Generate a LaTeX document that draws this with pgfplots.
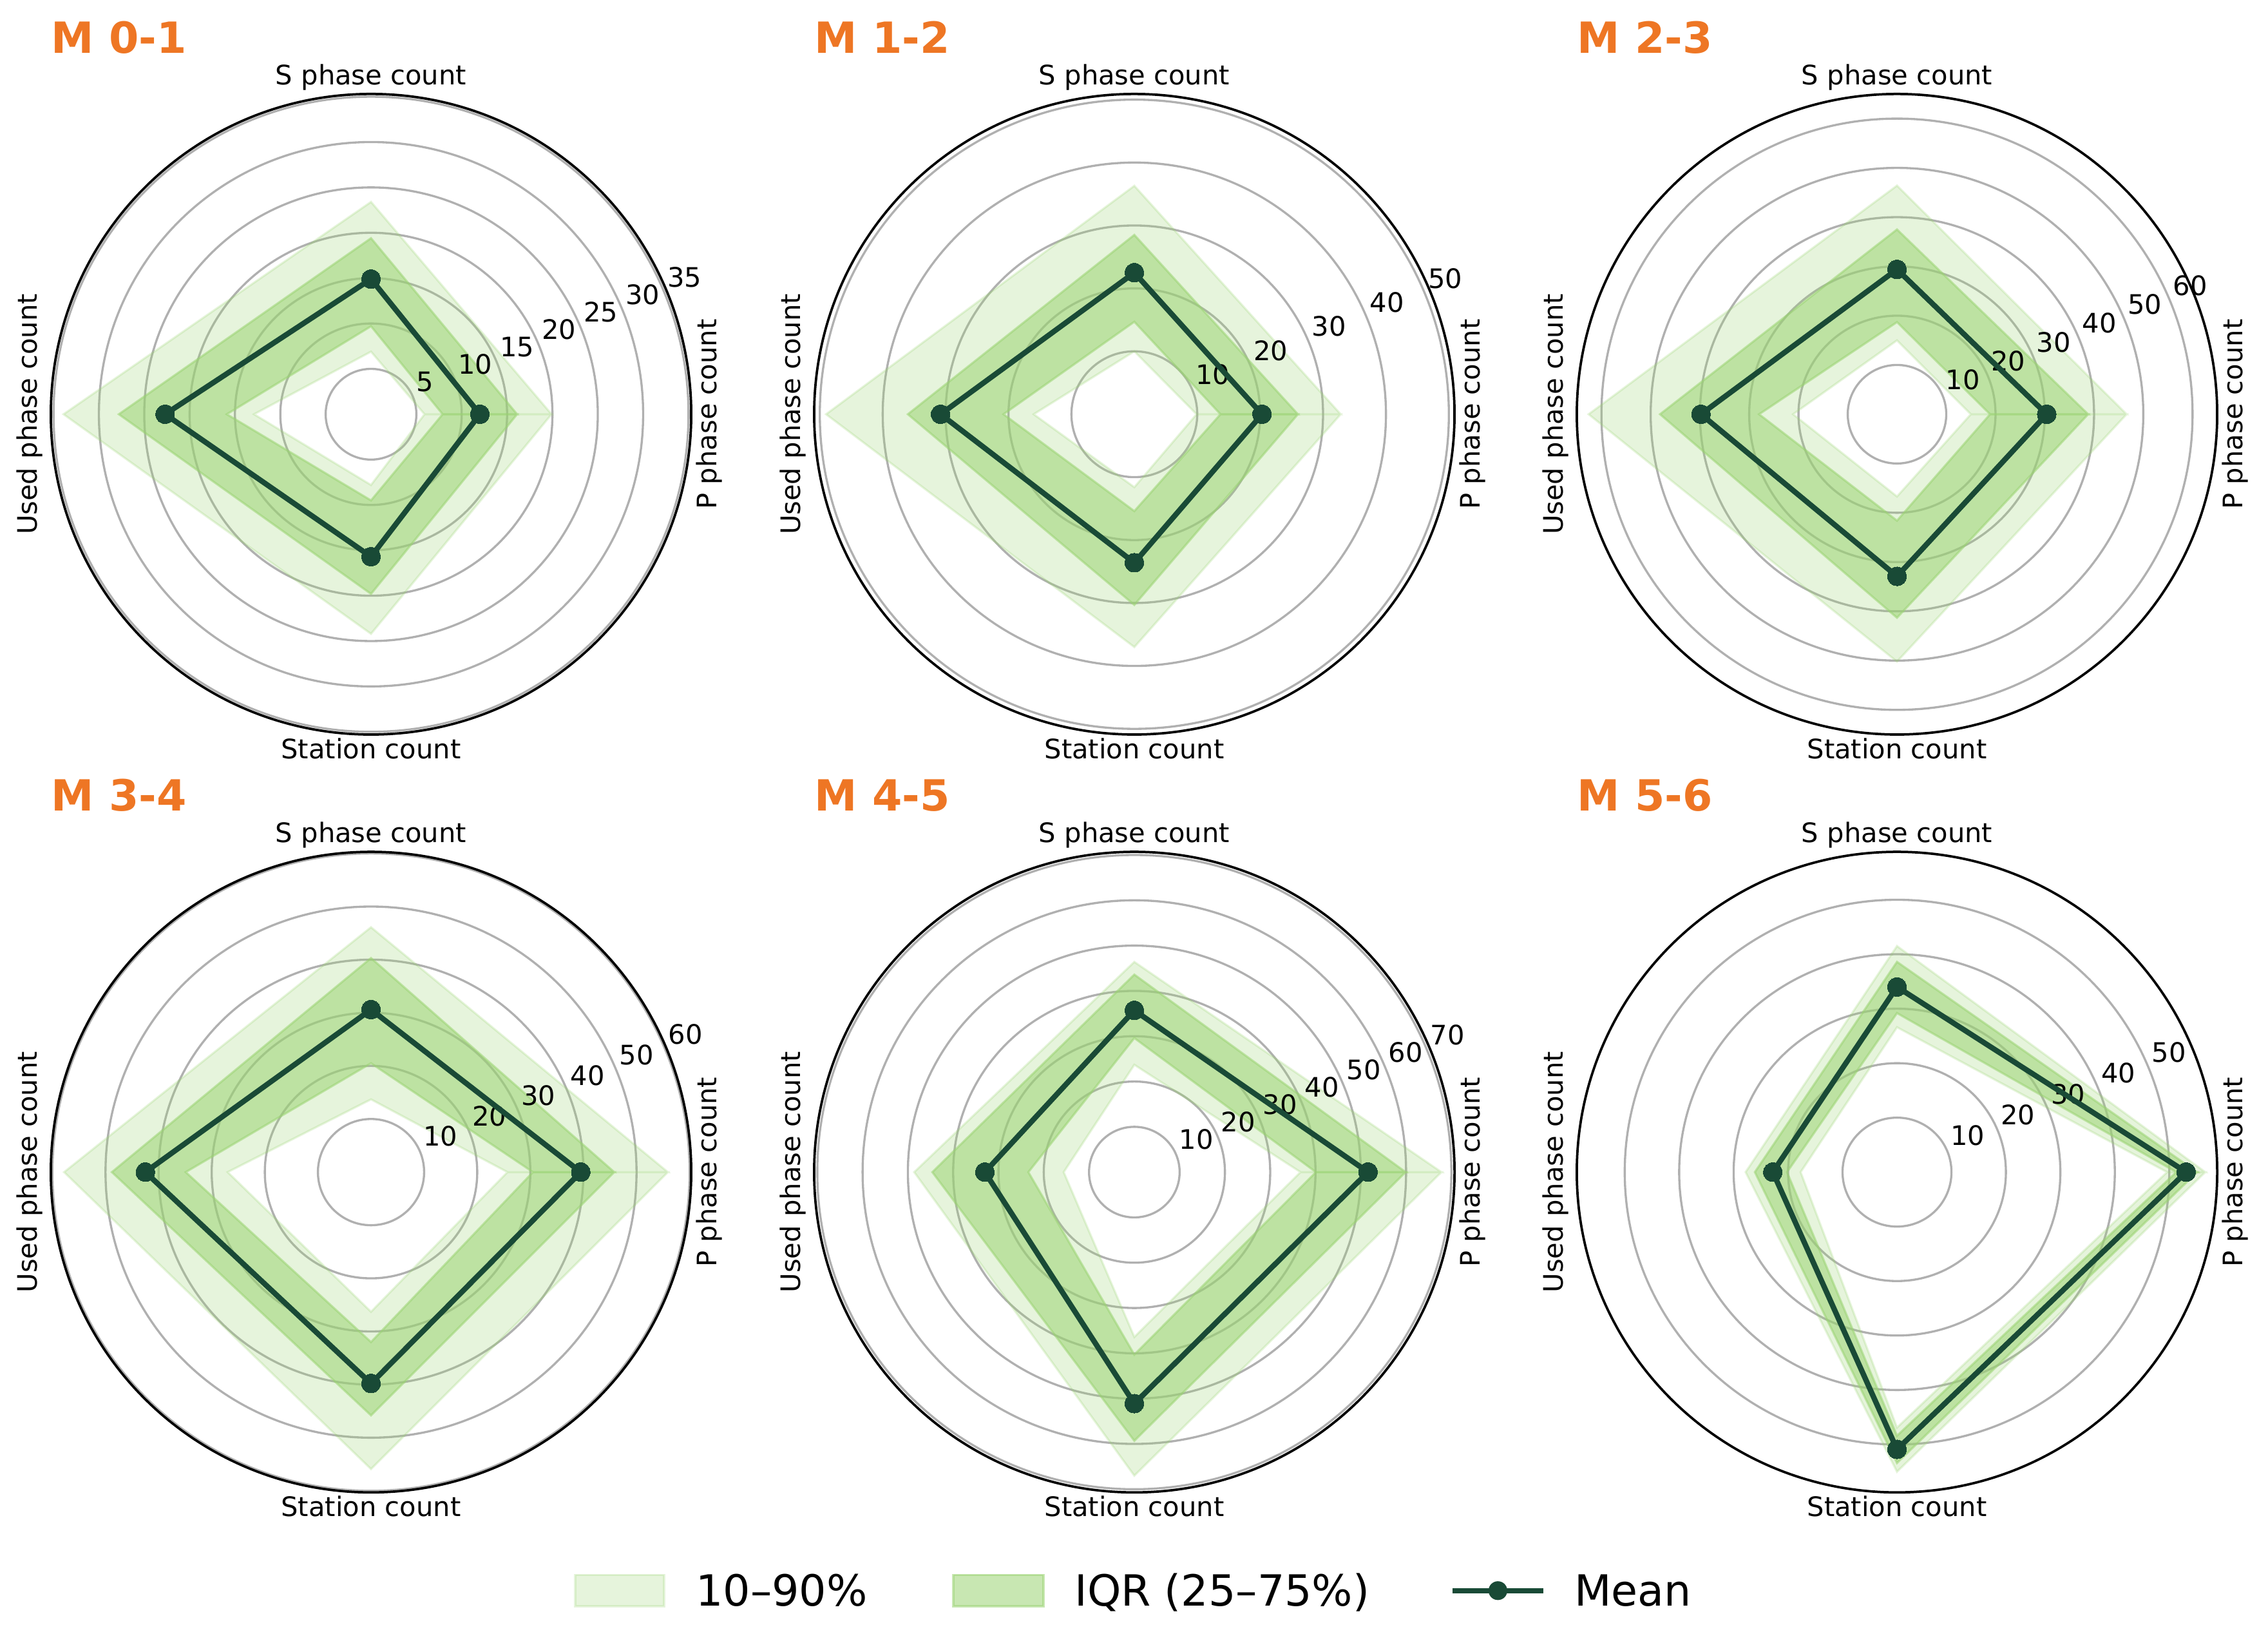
\documentclass[border=0pt]{standalone}
\usepackage{fontspec}
\setmainfont{DejaVu Sans}
\usepackage{pgfplots}
\pgfplotsset{compat=1.18}

\definecolor{bandgreen}{HTML}{9BD373}
\definecolor{meangreen}{HTML}{194A36}
\definecolor{ringgray}{HTML}{B0B0B0}
\definecolor{titleorange}{HTML}{EE7624}

\tikzset{
  ring/.style={draw=ringgray, line width=0.8pt},
  spine/.style={draw=black, line width=0.9pt},
  lab/.style={font=\fontsize{10}{12}\selectfont, inner sep=0pt},
  tickl/.style={font=\fontsize{10}{12}\selectfont, anchor=south west, inner sep=0pt, xshift=1pt, yshift=1.8pt},
  ttl/.style={font=\fontsize{16}{19}\selectfont\bfseries, text=titleorange, inner sep=0pt, anchor=base west},
  legtext/.style={font=\fontsize{16}{19}\selectfont, inner sep=0pt, anchor=base west},
}

\pgfplotsset{
  radar/.style={width=238.6pt, height=238.6pt, scale only axis,
    xmin=-#1, xmax=#1, ymin=-#1, ymax=#1,
    hide axis, clip=false, anchor=center},
  band10/.style={data cs=polar, mark=none, line width=0.8pt, line join=miter,
    draw=bandgreen, fill=bandgreen, draw opacity=0.25, fill opacity=0.25},
  bandiqr/.style={data cs=polar, mark=none, line width=0.8pt, line join=miter,
    draw=bandgreen, fill=bandgreen, draw opacity=0.55, fill opacity=0.55},
  meanline/.style={data cs=polar, draw=meangreen, line width=2pt, line join=round,
    mark=*, mark size=3.5pt, mark options={fill=meangreen, draw=meangreen, line width=0pt}},
}

% rings, spine and the four spoke labels of one radar panel
\newcommand{\radarframe}[2]{%
  \pgfplotsinvokeforeach{#2}{\draw[ring] (axis cs:0,0) circle[radius=##1];}
  \draw[spine] (axis cs:0,0) circle[radius=#1];
  \node[lab] at ([yshift=125.5pt]axis cs:0,0) {S phase count};
  \node[lab] at ([yshift=-124.6pt]axis cs:0,0) {Station count};
  \node[lab, rotate=90] at ([xshift=126pt]axis cs:0,0) {P phase count};
  \node[lab, rotate=90] at ([xshift=-127.2pt]axis cs:0,0) {Used phase count};
}
% radial tick labels along the 22.5 degree direction
\newcommand{\radarticks}[1]{%
  \pgfplotsinvokeforeach{#1}{\node[tickl] at (axis cs:{##1*cos(22.5)},{##1*sin(22.5)}) {##1};}
}
\newcommand{\radartitle}[1]{%
  \node[ttl] at ([xshift=-119.3pt, yshift=134.6pt]axis cs:0,0) {#1};
}

\begin{document}
\begin{tikzpicture}
\path[use as bounding box] (0pt,0pt) rectangle (845.04pt,-615.12pt);

% ---------------- M 0-1 ----------------
\begin{axis}[radar=35.3, at={(138.24pt,-154.3pt)}]
  \radarframe{35.3}{5,10,15,20,25,30,35}
  \addplot[band10] coordinates {(0,5.9) (90,6.9) (180,12.9) (270,7.8) (360,5.9)
    (360,19.9) (270,24.2) (180,33.9) (90,23.4) (0,19.9) (0,5.9)};
  \addplot[bandiqr] coordinates {(0,7.9) (90,9.7) (180,15.9) (270,9.5) (360,7.9)
    (360,16.1) (270,19.8) (180,27.8) (90,19.4) (0,16.1) (0,7.9)};
  \radarticks{5,10,15,20,25,30,35}
  \addplot[meanline] coordinates {(0,12.0) (90,14.9) (180,22.7) (270,15.7) (360,12.0)};
  \radartitle{M 0-1}
\end{axis}

% ---------------- M 1-2 ----------------
\begin{axis}[radar=50.9, at={(422.64pt,-154.3pt)}]
  \radarframe{50.9}{10,20,30,40,50}
  \addplot[band10] coordinates {(0,9.9) (90,10.0) (180,16.0) (270,11.6) (360,9.9)
    (360,32.8) (270,37.0) (180,49.0) (90,36.3) (0,32.8) (0,9.9)};
  \addplot[bandiqr] coordinates {(0,13.7) (90,14.7) (180,20.8) (270,15.4) (360,13.7)
    (360,26.0) (270,30.3) (180,36.0) (90,28.5) (0,26.0) (0,13.7)};
  \radarticks{10,20,30,40,50}
  \addplot[meanline] coordinates {(0,20.3) (90,22.5) (180,30.8) (270,23.6) (360,20.3)};
  \radartitle{M 1-2}
\end{axis}

% ---------------- M 2-3 ----------------
\begin{axis}[radar=65.0, at={(706.8pt,-154.3pt)}]
  \radarframe{65.0}{10,20,30,40,50,60}
  \addplot[band10] coordinates {(0,15.0) (90,15.0) (180,21.1) (270,16.7) (360,15.0)
    (360,46.6) (270,50.2) (180,62.6) (90,46.4) (0,46.6) (0,15.0)};
  \addplot[bandiqr] coordinates {(0,18.9) (90,18.7) (180,28.0) (270,21.6) (360,18.9)
    (360,38.8) (270,41.3) (180,48.1) (90,37.5) (0,38.8) (0,18.9)};
  \radarticks{10,20,30,40,50,60}
  \addplot[meanline] coordinates {(0,30.4) (90,29.4) (180,39.8) (270,32.9) (360,30.4)};
  \radartitle{M 2-3}
\end{axis}

% ---------------- M 3-4 ----------------
\begin{axis}[radar=60.3, at={(138.24pt,-436.6pt)}]
  \radarframe{60.3}{10,20,30,40,50,60}
  \addplot[band10] coordinates {(0,25.7) (90,13.7) (180,27.0) (270,26.3) (360,25.7)
    (360,55.9) (270,55.9) (180,57.8) (90,46.1) (0,55.9) (0,25.7)};
  \addplot[bandiqr] coordinates {(0,30.5) (90,20.5) (180,34.9) (270,32.0) (360,30.5)
    (360,45.8) (270,45.8) (180,48.8) (90,40.3) (0,45.8) (0,30.5)};
  \radarticks{10,20,30,40,50,60}
  \addplot[meanline] coordinates {(0,39.5) (90,30.6) (180,42.5) (270,39.8) (360,39.5)};
  \radartitle{M 3-4}
\end{axis}

% ---------------- M 4-5 ----------------
\begin{axis}[radar=70.7, at={(422.64pt,-436.6pt)}]
  \radarframe{70.7}{10,20,30,40,50,60,70}
  \addplot[band10] coordinates {(0,36.7) (90,23.7) (180,15.6) (270,36.4) (360,36.7)
    (360,67.8) (270,67.0) (180,48.6) (90,46.4) (0,67.8) (0,36.7)};
  \addplot[bandiqr] coordinates {(0,40.1) (90,29.6) (180,23.4) (270,40.3) (360,40.1)
    (360,59.9) (270,59.3) (180,44.6) (90,43.6) (0,59.9) (0,40.1)};
  \radarticks{10,20,30,40,50,60,70}
  \addplot[meanline] coordinates {(0,51.6) (90,35.7) (180,33.0) (270,51.1) (360,51.6)};
  \radartitle{M 4-5}
\end{axis}

% ---------------- M 5-6 ----------------
\begin{axis}[radar=58.8, at={(706.8pt,-436.6pt)}]
  \radarframe{58.8}{10,20,30,40,50}
  \addplot[band10] coordinates {(0,49.6) (90,26.6) (180,17.7) (270,46.9) (360,49.6)
    (360,56.6) (270,55.0) (180,27.8) (90,41.5) (0,56.6) (0,49.6)};
  \addplot[bandiqr] coordinates {(0,51.3) (90,29.2) (180,20.2) (270,48.4) (360,51.3)
    (360,55.1) (270,53.4) (180,26.1) (90,38.6) (0,55.1) (0,51.3)};
  \radarticks{10,20,30,40,50}
  \addplot[meanline] coordinates {(0,53.1) (90,34.0) (180,22.8) (270,50.9) (360,53.1)};
  \radartitle{M 5-6}
\end{axis}

% ---------------- legend ----------------
\draw[draw=bandgreen, fill=bandgreen, draw opacity=0.25, fill opacity=0.25, line width=0.8pt]
  (214.3pt,-586.6pt) rectangle (247.4pt,-598.3pt);
\node[legtext] at (259.1pt,-598.3pt) {10–90\%};
\draw[draw=bandgreen, fill=bandgreen, draw opacity=0.55, fill opacity=0.55, line width=0.8pt]
  (355.2pt,-586.6pt) rectangle (388.8pt,-598.3pt);
\node[legtext] at (400.2pt,-598.3pt) {IQR (25–75\%)};
\draw[meangreen, line width=2pt] (541.2pt,-592.5pt) -- (575.0pt,-592.5pt);
\fill[meangreen] (558.1pt,-592.5pt) circle[radius=3.5pt];
\node[legtext] at (586.4pt,-598.3pt) {Mean};
\end{tikzpicture}
\end{document}
